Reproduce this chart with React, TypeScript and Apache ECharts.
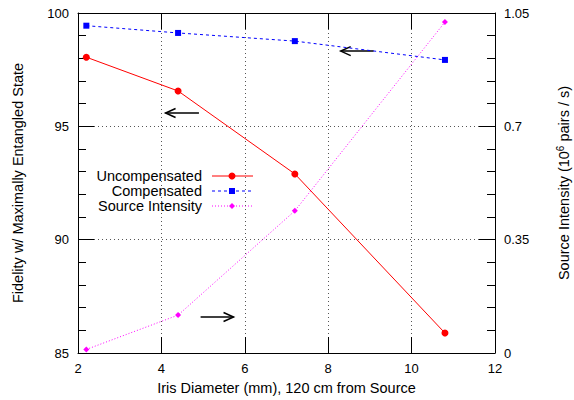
import React, { useEffect, useRef } from "react";
import * as echarts from "echarts";

const irisDiameter = [2.2, 4.4, 7.2, 10.8];
const uncompensated = [98.05, 96.56, 92.9, 85.88];
const compensated = [99.44, 99.12, 98.76, 97.93];
const sourceIntensity = [0.011, 0.117, 0.439, 1.022];
// arrows: [xStart, yStart, xEnd, yEnd] in left-axis data coordinates
const arrows = [
  [9.09, 98.32, 8.3, 98.32],
  [4.9, 95.59, 4.1, 95.59],
  [4.94, 86.59, 5.73, 86.59],
];
const legendNames = ["Uncompensated", "Compensated", "Source Intensity"];

const FONT = "Liberation Sans, Arial, sans-serif";

export default function App() {
  const ref = useRef<HTMLDivElement>(null);
  useEffect(() => {
    if (!ref.current) return;
    const chart = echarts.init(ref.current, null, { renderer: "svg" });
    const L = 78, R = 495, T = 13, B = 353;
    const axisLine = { show: true, lineStyle: { color: "#000", width: 1 } };
    const legendY = [176, 191, 206];
    const graphic: any[] = [];
    const colors = ["#ff0000", "#0000ff", "#ff00ff"];
    const dashes: any[] = ["solid", [3, 3], [1, 2]];
    legendNames.forEach((n, i) => {
      graphic.push({
        type: "text",
        x: 202,
        y: legendY[i],
        style: { text: n, fontFamily: FONT, fontSize: 14.5, fill: "#000", textAlign: "right", textVerticalAlign: "middle" },
      });
      graphic.push({
        type: "line",
        shape: { x1: 212, y1: legendY[i], x2: 253, y2: legendY[i] },
        style: { stroke: colors[i], lineWidth: 1, lineDash: dashes[i] === "solid" ? null : dashes[i] },
      });
    });
    graphic.push({ type: "circle", shape: { cx: 232, cy: legendY[0], r: 3.5 }, style: { fill: colors[0] } });
    graphic.push({ type: "rect", shape: { x: 229, y: legendY[1] - 3, width: 6, height: 6 }, style: { fill: colors[1] } });
    graphic.push({
      type: "polygon",
      shape: { points: [[232, legendY[2] - 3], [235, legendY[2]], [232, legendY[2] + 3], [229, legendY[2]]] },
      style: { fill: colors[2] },
    });

    const option: any = {
      animation: false,
      backgroundColor: "#fff",
      grid: { left: L, right: 574 - R, top: T, bottom: 400 - B, containLabel: false, outerBoundsMode: "none" },
      graphic,
      xAxis: [
        {
          type: "value",
          min: 2,
          max: 12,
          interval: 2,
          name: "Iris Diameter (mm), 120 cm from Source",
          nameLocation: "middle",
          nameGap: 27,
          nameTextStyle: { fontFamily: FONT, fontSize: 14.5, color: "#000" },
          axisLine,
          axisTick: { show: true, inside: true, length: 16, lineStyle: { color: "#000" } },
          axisLabel: { fontFamily: FONT, fontSize: 13, color: "#000", margin: 9 },
          splitLine: { show: true, lineStyle: { color: "#555", type: [1, 3], width: 1 } },
        },
        {
          type: "value",
          position: "top",
          min: 2,
          max: 12,
          interval: 2,
          axisLine,
          axisTick: { show: true, inside: true, length: 16, lineStyle: { color: "#000" } },
          axisLabel: { show: false },
          splitLine: { show: false },
        },
      ],
      yAxis: [
        {
          type: "value",
          min: 85,
          max: 100,
          interval: 5,
          name: "Fidelity w/ Maximally Entangled State",
          nameLocation: "middle",
          nameRotate: 90,
          nameGap: 53,
          nameTextStyle: { fontFamily: FONT, fontSize: 14.5, color: "#000" },
          axisLine,
          axisTick: { show: true, inside: true, length: 16, lineStyle: { color: "#000" } },
          minorTick: { show: true, splitNumber: 5, length: 8, lineStyle: { color: "#000" } },
          axisLabel: { fontFamily: FONT, fontSize: 13, color: "#000", margin: 9 },
          splitLine: { show: true, lineStyle: { color: "#555", type: [1, 3], width: 1 } },
        },
        {
          type: "value",
          position: "right",
          min: 0,
          max: 1.05,
          interval: 0.35,
          name: "{a|Source Intensity (10}{s|6}{a| pairs / s)}",
          nameLocation: "middle",
          nameRotate: 90,
          nameGap: 60,
          nameTextStyle: {
            rich: {
              a: { fontFamily: FONT, fontSize: 14.5, color: "#000" },
              s: { fontFamily: FONT, fontSize: 10, color: "#000", verticalAlign: "top", padding: [0, 0, 8, 0] },
            },
          },
          axisLine,
          axisTick: { show: true, inside: true, length: 16, lineStyle: { color: "#000" } },
          minorTick: { show: true, splitNumber: 5, length: 8, lineStyle: { color: "#000" } },
          axisLabel: { fontFamily: FONT, fontSize: 13, color: "#000", margin: 9 },
          splitLine: { show: false },
        },
      ],
      series: [
        {
          name: "Uncompensated",
          type: "line",
          data: irisDiameter.map((x, i) => [x, uncompensated[i]]),
          yAxisIndex: 0,
          symbol: "circle",
          symbolSize: 7,
          itemStyle: { color: "#ff0000" },
          lineStyle: { color: "#ff0000", width: 1 },
        },
        {
          name: "Compensated",
          type: "line",
          data: irisDiameter.map((x, i) => [x, compensated[i]]),
          yAxisIndex: 0,
          symbol: "rect",
          symbolSize: 6,
          itemStyle: { color: "#0000ff" },
          lineStyle: { color: "#0000ff", width: 1, type: [3, 3] },
        },
        {
          name: "Source Intensity",
          type: "line",
          data: irisDiameter.map((x, i) => [x, sourceIntensity[i]]),
          yAxisIndex: 1,
          symbol: "diamond",
          symbolSize: 6,
          itemStyle: { color: "#ff00ff" },
          lineStyle: { color: "#ff00ff", width: 1, type: [1, 2] },
        },
        {
          type: "custom",
          yAxisIndex: 0,
          xAxisIndex: 0,
          data: arrows,
          encode: { x: [0, 2], y: [1, 3] },
          clip: false,
          renderItem: (params: any, api: any) => {
            const p1 = api.coord([api.value(0), api.value(1)]);
            const p2 = api.coord([api.value(2), api.value(3)]);
            const dx = p2[0] - p1[0];
            const dy = p2[1] - p1[1];
            const len = Math.sqrt(dx * dx + dy * dy) || 1;
            const ux = dx / len, uy = dy / len;
            const hl = 10, hw = 4.5;
            const bx = p2[0] - ux * hl, by = p2[1] - uy * hl;
            const a = [bx - uy * hw, by + ux * hw];
            const b = [bx + uy * hw, by - ux * hw];
            return {
              type: "group",
              children: [
                { type: "line", shape: { x1: p1[0], y1: p1[1], x2: p2[0], y2: p2[1] }, style: { stroke: "#000", lineWidth: 1.5 } },
                { type: "polyline", shape: { points: [a, p2, b] }, style: { stroke: "#000", lineWidth: 1.5, fill: "none" } },
              ],
            };
          },
        },
      ],
    };
    chart.setOption(option);
    return () => chart.dispose();
  }, []);
  return <div ref={ref} style={{ position: "absolute", left: 0, top: 0, width: 574, height: 400 }} />;
}
